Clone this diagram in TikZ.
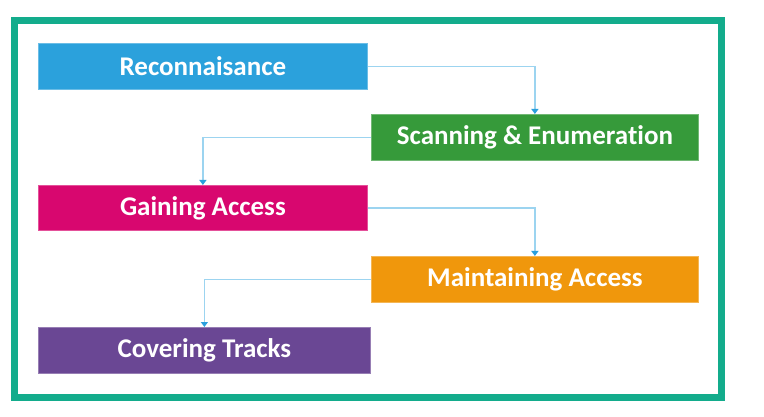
\documentclass[tikz,border=0pt]{standalone}
\usepackage{fontspec}
\setmainfont{Carlito}[Ligatures={NoCommon}]
\usetikzlibrary{arrows.meta}
\definecolor{frame}{HTML}{13AC8C}
\definecolor{cblue}{HTML}{2BA1DC}
\definecolor{cgreen}{HTML}{369A3A}
\definecolor{cpink}{HTML}{D8076F}
\definecolor{corange}{HTML}{F0970C}
\definecolor{cpurple}{HTML}{6A4794}
\definecolor{lineblue}{HTML}{9CD4F0}
\definecolor{tipblue}{HTML}{2A9FDD}
\tikzset{
  stagebox/.style={rectangle, inner sep=0pt, anchor=north west, text=white,
    font=\bfseries\fontsize{27}{30}\selectfont, line width=0.8pt},
  flow/.style={draw=lineblue, line width=1.3pt,
    -{Triangle[width=7pt,length=5pt,color=tipblue]}},
}
\begin{document}
\begin{tikzpicture}[x=1pt,y=-1pt]
\useasboundingbox (0,0) rectangle (764,417);
\draw[frame, line width=7pt] (14.5,20.5) rectangle (721.5,397);
\node[stagebox, fill=cblue, draw=cblue!70!white, minimum width=329pt, minimum height=46pt] (r) at (38,43) {Reconnaisance};
\node[stagebox, fill=cgreen, draw=cgreen!70!white, minimum width=327pt, minimum height=46pt] (s) at (371,114) {Scanning \& Enumeration};
\node[stagebox, fill=cpink, draw=cpink!70!white, minimum width=329pt, minimum height=45pt] (g) at (38,185) {Gaining Access};
\node[stagebox, fill=corange, draw=corange!70!white, minimum width=327pt, minimum height=46pt] (m) at (371,256) {Maintaining Access};
\node[stagebox, fill=cpurple, draw=cpurple!70!white, minimum width=332pt, minimum height=46pt] (c) at (38,327) {Covering Tracks};
\draw[flow] (r.east) -| (s.north);
\draw[flow] (s.west) -| (g.north);
\draw[flow] (g.east) -| (m.north);
\draw[flow] (m.west) -| (c.north);
\end{tikzpicture}
\end{document}
